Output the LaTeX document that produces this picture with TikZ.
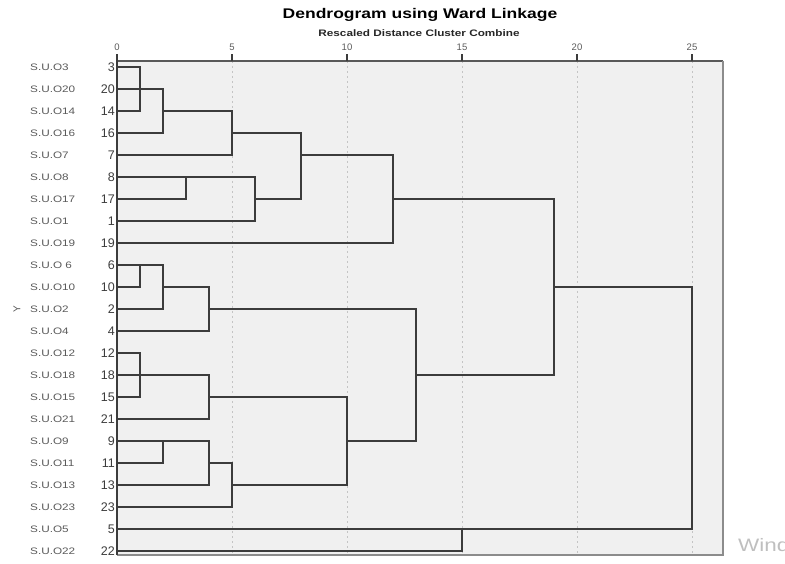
\documentclass[tikz,border=0pt]{standalone}
\usepackage{fontspec}
\setmainfont{Liberation Sans}
\newfontfamily\widesans[FakeStretch=1.25]{Liberation Sans}
\usepackage{tikz}
\usetikzlibrary{positioning}

\definecolor{plotbg}{HTML}{F0F0F0}
\definecolor{linkgray}{HTML}{3C3C3C}
\definecolor{gridgray}{HTML}{C4C4C4}
\definecolor{labgray}{HTML}{5A5A5A}
\definecolor{framegray}{HTML}{8C8C8C}

\begin{document}
\begin{tikzpicture}[
    x=1pt, y=-1pt,
    title/.style={font=\widesans\bfseries\fontsize{14}{16}\selectfont, inner sep=0pt},
    subtitle/.style={font=\widesans\bfseries\fontsize{9.4}{11}\selectfont, text=black!85, inner sep=0pt},
    ticklab/.style={font=\fontsize{9.5}{11}\selectfont, text=labgray, inner sep=0pt},
    rowlab/.style={font=\widesans\fontsize{9.4}{11}\selectfont, text=labgray, anchor=west, inner sep=0pt},
    rownum/.style={font=\fontsize{12.5}{14}\selectfont, text=linkgray, anchor=east, inner sep=0pt, xshift=-2pt},
    ylab/.style={font=\fontsize{10}{11}\selectfont, text=labgray, rotate=90, inner sep=0pt},
    watermark/.style={font=\widesans\fontsize{18}{20}\selectfont, text=black!25, anchor=west, inner sep=0pt},
    link/.style={draw=linkgray, line width=1.3pt},
    tick/.style={draw=linkgray, line width=1.2pt},
    gridline/.style={draw=gridgray, line width=0.8pt, dash pattern=on 2pt off 3pt},
    frametop/.style={draw=black!65, line width=1.2pt},
    frameside/.style={draw=framegray, line width=1.2pt},
    axisline/.style={draw=linkgray, line width=1.6pt}
]
\useasboundingbox (0,0) rectangle (785,563);

% Titles
\node[title] (title) at (420,15) {Dendrogram using Ward Linkage};
\node[subtitle] (subtitle) at (419,33) {Rescaled Distance Cluster Combine};
\node[ylab] (ylab) at (17,309) {Y};
\node[watermark] (wind) at (738,545) {Wind};

\coordinate (labcol) at (30,0);

\begin{scope}[shift={(117pt,-67pt)}, x=23pt, y=-22pt]

% Plot area
\fill[plotbg] (0,-0.273) rectangle (26.35,22.18);
\foreach \t in {5,10,...,25}
    \draw[gridline] (\t,-0.273) -- (\t,22.18);
\draw[frametop] (0,-0.273) -- (26.35,-0.273);
\draw[frameside] (26.35,-0.273) -- (26.35,22.18) -- (0,22.18);

% Distance scale
\foreach \t in {0,5,...,25} {
    \draw[tick] (\t,-0.273) -- (\t,-0.59);
    \node[ticklab] (tick\t) at (\t,-0.91) {\t};
}

% Leaf rows
\foreach \id/\txt [count=\r from 0] in {3/S.U.O3, 20/S.U.O20, 14/S.U.O14, 16/S.U.O16,
    7/S.U.O7, 8/S.U.O8, 17/S.U.O17, 1/S.U.O1, 19/S.U.O19, 6/S.U.O 6, 10/S.U.O10,
    2/S.U.O2, 4/S.U.O4, 12/S.U.O12, 18/S.U.O18, 15/S.U.O15, 21/S.U.O21, 9/S.U.O9,
    11/S.U.O11, 13/S.U.O13, 23/S.U.O23, 5/S.U.O5, 22/S.U.O22} {
    \coordinate (l\id) at (0,\r);
    \node[rownum] (n\id) at (l\id) {\id};
    \node[rowlab] (s\id) at (l\id -| labcol) {\txt};
}

% Merge points (distance, row of cluster line)
\coordinate (mA) at (1,1);
\coordinate (mB) at (2,2);
\coordinate (mC) at (5,3);
\coordinate (mD) at (3,5);
\coordinate (mE) at (6,6);
\coordinate (mF) at (8,4);
\coordinate (mG) at (12,6);
\coordinate (mH) at (1,9);
\coordinate (mI) at (2,10);
\coordinate (mJ) at (4,11);
\coordinate (mK) at (1,14);
\coordinate (mL) at (4,15);
\coordinate (mM) at (2,17);
\coordinate (mN) at (4,18);
\coordinate (mO) at (5,19);
\coordinate (mP) at (10,17);
\coordinate (mQ) at (13,14);
\coordinate (mR) at (19,10);
\coordinate (mS) at (15,21);
\coordinate (mT) at (25,15);

% Links
\draw[link] (l20) -- (mA);
\draw[link] (l18) -- (mK);
\foreach \a/\b/\m in {l3/l14/mA, mA/l16/mB, mB/l7/mC, l8/l17/mD, mD/l1/mE,
    mC/mE/mF, mF/l19/mG, l6/l10/mH, mH/l2/mI, mI/l4/mJ, l12/l15/mK, mK/l21/mL,
    l9/l11/mM, mM/l13/mN, mN/l23/mO, mL/mO/mP, mJ/mP/mQ, mG/mQ/mR, l5/l22/mS,
    mR/mS/mT}
    \draw[link] (\a) -- (\a -| \m) -- (\b -| \m) -- (\b);

\draw[axisline] (0,-0.273) -- (0,22.18);
\end{scope}
\end{tikzpicture}
\end{document}
